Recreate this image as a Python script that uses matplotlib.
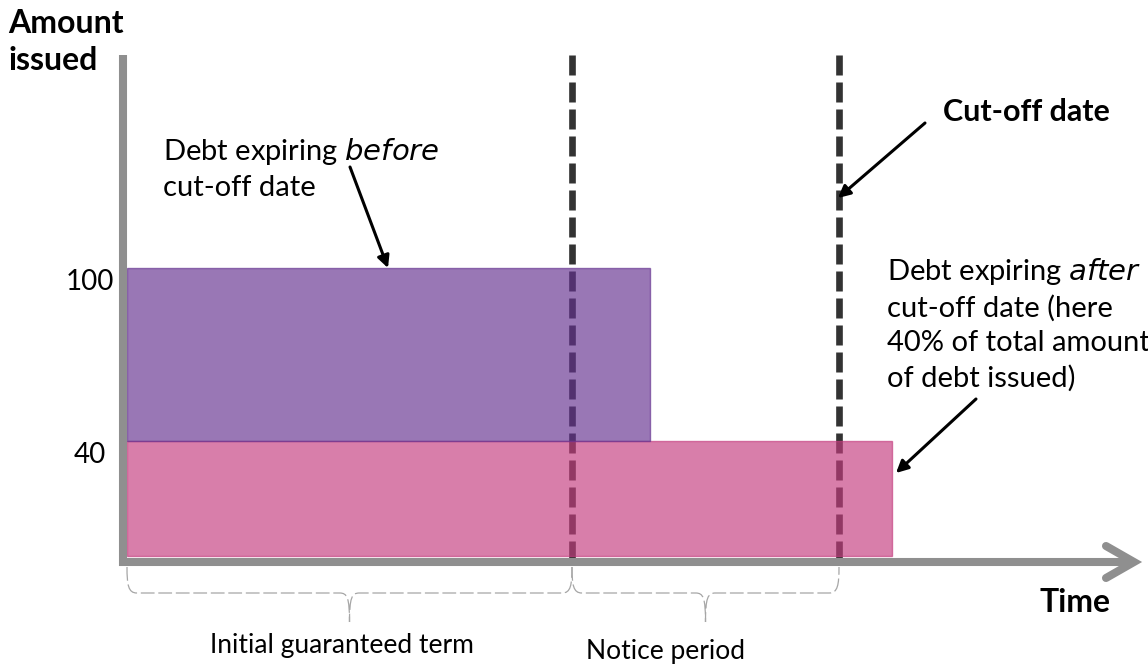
import matplotlib.pyplot as plt
from matplotlib.path import Path
from matplotlib.patches import PathPatch
from matplotlib.transforms import Affine2D, blended_transform_factory, offset_copy

# Debt tranches: amount issued and time at which each expires
amounts = [40, 100]
expiry = [17.2, 11.75]
bar_colors = ['#c43c7e', '#64318f']

# Key dates on the time axis
notice_start = 10.0
cutoff_date = 16.0

y_ticks = [40, 100]
brace_labels = ['Initial guaranteed term', 'Notice period']

W, H = 1148, 668
plt.rcParams['font.family'] = ['Lato', 'DejaVu Sans']

fig = plt.figure(figsize=(W / 100, H / 100), dpi=100)
ax = fig.add_axes([0, 0, 1, 1])
ax.set_xlim(-127 / 44.5, (W - 127) / 44.5)
ax.set_ylim(-(H - 556) / 2.88, 556 / 2.88)
ax.axis('off')

# pixel coordinates measured from the top-left corner
pix = Affine2D().scale(1 / W, -1 / H).translate(0, 1) + fig.transFigure
xdata_ypix = blended_transform_factory(ax.transData, pix)
xpix_ydata = blended_transform_factory(pix, ax.transData)

axis_grey = '#8f8f8f'

# vertical dashed markers (drawn under the translucent bars)
for xv in [notice_start, cutoff_date]:
    ax.plot([xv, xv], [55, 562], transform=xdata_ypix, color='#333333',
            lw=4.8, dashes=(3, 1.05), solid_capstyle='butt',
            dash_capstyle='butt', zorder=1)

# stacked tranches: bottom tranche 0-40, top tranche 40-100
bottom = 0
for amt, end, col in zip(amounts, expiry, bar_colors):
    ax.bar(0, amt - bottom, width=end, bottom=bottom, align='edge',
           color=col, alpha=0.66, edgecolor=col, linewidth=1, zorder=2)
    bottom = amt

# axes drawn as thick grey strokes
ax.plot([123, 123], [55, 566], transform=pix, color=axis_grey, lw=5.8,
        solid_capstyle='butt', zorder=3)
ax.plot([119, 1130], [562, 562], transform=pix, color=axis_grey, lw=5.8,
        solid_capstyle='butt', zorder=3)
ax.plot([1106, 1134, 1106], [546, 562, 578], transform=pix, color=axis_grey,
        lw=5.8, solid_capstyle='round', solid_joinstyle='miter', zorder=3)

tick_trans = offset_copy(xpix_ydata, fig=fig, x=0, y=-14, units='dots')
for v in y_ticks:
    ax.text(90, v, str(v), transform=tick_trans, ha='center', va='center',
            fontsize=20)

ax.text(8, 9, 'Amount\nissued', transform=pix, ha='left', va='top',
        fontsize=23, fontweight='bold', linespacing=1.33)
ax.text(1110, 112, 'Cut-off date', transform=pix, ha='right', va='center',
        fontsize=22, fontweight='bold')
ax.text(1110, 602, 'Time', transform=pix, ha='right', va='center',
        fontsize=23, fontweight='bold')

ax.text(163, 136, 'Debt expiring $\\it{before}$\ncut-off date', transform=pix,
        ha='left', va='top', fontsize=21, linespacing=1.4)
ax.text(887, 256, 'Debt expiring $\\it{after}$\ncut-off date (here\n'
        '40% of total amount\nof debt issued)', transform=pix,
        ha='left', va='top', fontsize=21, linespacing=1.38)

arrow = dict(arrowstyle='-|>', color='black', lw=2.2, mutation_scale=18,
             shrinkA=0, shrinkB=0)
ax.annotate('', xy=(388, 268), xytext=(350, 167), xycoords=pix,
            textcoords=pix, arrowprops=arrow)
ax.annotate('', xy=(838, 198), xytext=(925, 123), xycoords=pix,
            textcoords=pix, arrowprops=arrow)
ax.annotate('', xy=(896, 473), xytext=(976, 399), xycoords=pix,
            textcoords=pix, arrowprops=arrow)


def brace(a, b, top=567, mid=593, tip=622, r=0.22):
    c = (a + b) / 2
    verts = [(a, top), (a, mid - 8), (a + 0.03, mid), (a + r, mid),
             (c - r, mid), (c - 0.05, mid), (c, mid + 5), (c, tip),
             (c, mid + 5), (c + 0.05, mid), (c + r, mid),
             (b - r, mid), (b - 0.03, mid), (b, mid - 8), (b, top)]
    codes = [Path.MOVETO, Path.CURVE4, Path.CURVE4, Path.CURVE4,
             Path.LINETO, Path.CURVE4, Path.CURVE4, Path.CURVE4,
             Path.CURVE4, Path.CURVE4, Path.CURVE4,
             Path.LINETO, Path.CURVE4, Path.CURVE4, Path.CURVE4]
    ax.add_patch(PathPatch(Path(verts, codes), transform=xdata_ypix,
                           fill=False, edgecolor='#a6a6a6', lw=0.9,
                           linestyle=(0, (11, 3))))


spans = [(0, notice_start), (notice_start, cutoff_date)]
label_pos = [(342, 645), (666, 652)]
for (a, b), lab, (px, py) in zip(spans, brace_labels, label_pos):
    brace(a, b)
    ax.text(px, py, lab, transform=pix, ha='center', va='center',
            fontsize=19)

fig.savefig('out.png', dpi=100)
